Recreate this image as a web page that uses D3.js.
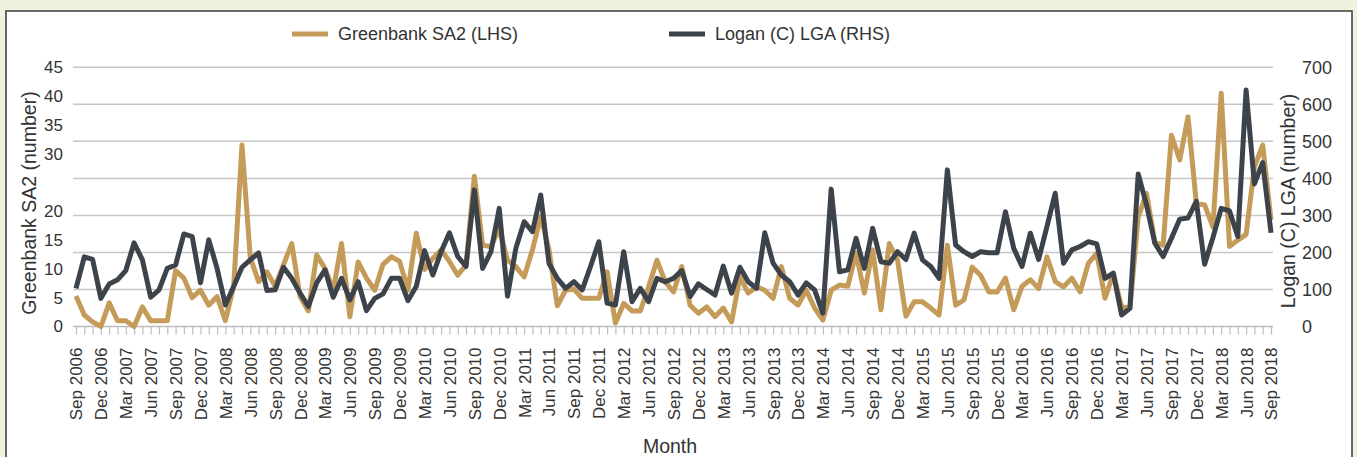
<!DOCTYPE html>
<html>
<head>
<meta charset="utf-8">
<script src="https://cdn.jsdelivr.net/npm/d3@7"></script>
<style>
  html, body { margin: 0; padding: 0; background: #eef3de; }
  svg { display: block; font-family: "Liberation Sans", Arial, sans-serif; }
</style>
</head>
<body>
<svg id="chart" width="1357" height="457"></svg>
<script>
'use strict';

// month categories, Sep 2006 .. Sep 2018
const MONTH_NAMES = ["Jan","Feb","Mar","Apr","May","Jun","Jul","Aug","Sep","Oct","Nov","Dec"];
const months = [];
for (let y = 2006, m = 8; y < 2018 || (y === 2018 && m <= 8); m++) {
  if (m === 12) { m = 0; y++; }
  months.push(MONTH_NAMES[m] + " " + y);
}

// Greenbank SA2 (left axis)
const greenbank = [
  5.3, 2.0, 0.8, 0, 4.1, 1, 1, 0, 3.4, 1, 1, 1, 9.7, 8.4, 5, 6.3, 3.7, 5.2, 1, 7,
  31.5, 12, 7.8, 9.5, 7, 10.7, 14.4, 5.2, 2.7, 12.4, 10.1, 6.3, 14.4, 1.7, 11.2, 8.4, 6.3, 10.8, 12.1, 11.3,
  6.3, 16.2, 9.9, 11.8, 13.3, 11.3, 8.9, 10.7, 26.1, 14.1, 13.9, 17, 11.5, 10.4, 8.6, 13.3, 19.1, 13.3, 3.6, 6.3,
  6.5, 4.9, 4.9, 4.9, 9.5, 0.6, 4, 2.7, 2.7, 6.9, 11.5, 7.8, 6, 10.4, 3.7, 2.3, 3.4, 1.7, 3.2, 0.8,
  8.6, 5.8, 6.9, 6.3, 4.9, 10.4, 4.9, 3.7, 6.3, 3.2, 1.1, 6.3, 7.2, 7, 12.7, 5.8, 13.3, 2.9, 14.4, 11.5,
  1.8, 4.3, 4.3, 3.2, 2, 14.1, 3.7, 4.6, 10.3, 8.9, 6, 6, 8.4, 2.9, 7, 8.1, 6.6, 12.1, 7.8, 6.9,
  8.4, 6, 11, 12.7, 4.9, 9.2, 3.4, 3.2, 19, 23.1, 14.7, 14.1, 33.2, 28.9, 36.4, 21.4, 21.1, 17.3, 40.5, 13.9,
  15, 16, 27.7, 31.5, 18.5
];

// Logan (C) LGA (right axis)
const logan = [
  103, 188, 181, 76, 115, 126, 151, 226, 180, 79, 99, 157, 166, 250, 243, 118, 234, 157, 58, 108,
  160, 180, 199, 97, 99, 160, 130, 90, 54, 118, 153, 79, 130, 72, 121, 43, 76, 88, 130, 130,
  70, 108, 205, 139, 202, 253, 189, 162, 369, 157, 202, 319, 82, 211, 283, 256, 355, 170, 130, 103,
  121, 99, 162, 229, 63, 58, 202, 67, 103, 67, 130, 121, 130, 151, 81, 115, 100, 85, 163, 90,
  160, 121, 103, 253, 171, 139, 121, 85, 118, 99, 36, 371, 148, 153, 238, 157, 265, 175, 171, 202,
  181, 252, 180, 162, 130, 423, 220, 202, 189, 202, 199, 199, 310, 211, 162, 252, 181, 270, 360, 171,
  207, 216, 229, 223, 130, 144, 31, 49, 412, 328, 225, 189, 238, 290, 293, 338, 168, 240, 319, 312,
  243, 639, 385, 443, 253
];

const leftTicks = [0, 5, 10, 15, 20, 30, 35, 40, 45];
const rightTicks = [0, 100, 200, 300, 400, 500, 600, 700];

const GOLD = "#c59b5a";
const DARK = "#3d434a";
const TEXT = "#333";

let svg = d3.select("#chart");

// frame
svg.append("rect")
  .attr("x", 6).attr("y", 11).attr("width", 1346).attr("height", 460)
  .attr("fill", "#fff").attr("stroke", "#3a3a3a").attr("stroke-width", 1.5);

let x = d3.scalePoint().domain(months).range([76, 1271]);
let yLeft = d3.scaleLinear().domain([0, 45]).range([326.5, 67.3]);
let yRight = d3.scaleLinear().domain([0, 700]).range([326.5, 67.3]);

// gridlines (right axis)
svg.append("g")
  .selectAll("line")
  .data(rightTicks.filter(d => d > 0))
  .enter().append("line")
  .attr("x1", 73).attr("x2", 1273)
  .attr("y1", d => yRight(d)).attr("y2", d => yRight(d))
  .attr("stroke", "#c6c6c6").attr("stroke-width", 1.5);

// x axis
let xAxis = svg.append("g")
  .attr("transform", "translate(0," + yRight(0) + ")")
  .call(d3.axisBottom(x).tickSize(8).tickFormat((d, i) => i % 3 === 0 ? d : ""));
xAxis.select(".domain").attr("stroke", "#bdbdbd").attr("stroke-width", 1.5)
  .attr("d", "M73,0H1273");
xAxis.selectAll(".tick line").attr("stroke", "#bdbdbd").attr("stroke-width", 1.2);
xAxis.selectAll(".tick text")
  .attr("transform", "rotate(-90)")
  .attr("text-anchor", "end")
  .attr("x", -21).attr("y", 0).attr("dy", "0.35em")
  .attr("fill", TEXT)
  .style("font-size", "17px");

// left axis labels
let leftAxis = svg.append("g")
  .attr("transform", "translate(63,0)")
  .call(d3.axisLeft(yLeft).tickValues(leftTicks).tickSize(0).tickPadding(0));
leftAxis.select(".domain").remove();
leftAxis.selectAll("text").attr("fill", TEXT).style("font-size", "17px");

// right axis labels
let rightAxis = svg.append("g")
  .attr("transform", "translate(1302,0)")
  .call(d3.axisRight(yRight).tickValues(rightTicks).tickSize(0).tickPadding(0));
rightAxis.select(".domain").remove();
rightAxis.selectAll("text").attr("fill", TEXT).style("font-size", "18px");

// axis titles
svg.append("text")
  .attr("transform", "translate(29,203) rotate(-90)")
  .attr("text-anchor", "middle").attr("dy", "0.35em")
  .attr("fill", TEXT).style("font-size", "19.5px")
  .text("Greenbank SA2 (number)");

svg.append("text")
  .attr("transform", "translate(1288,201) rotate(-90)")
  .attr("text-anchor", "middle").attr("dy", "0.35em")
  .attr("fill", TEXT).style("font-size", "19.5px")
  .text("Logan (C) LGA (number)");

svg.append("text")
  .attr("x", 670).attr("y", 446)
  .attr("text-anchor", "middle").attr("dy", "0.35em")
  .attr("fill", TEXT).style("font-size", "19.5px")
  .text("Month");

// lines
let lineLeft = d3.line().x((d, i) => x(months[i])).y(d => yLeft(d));
let lineRight = d3.line().x((d, i) => x(months[i])).y(d => yRight(d));

svg.append("path").datum(greenbank)
  .attr("d", lineLeft)
  .attr("fill", "none").attr("stroke", GOLD).attr("stroke-width", 5)
  .attr("stroke-linejoin", "round");

svg.append("path").datum(logan)
  .attr("d", lineRight)
  .attr("fill", "none").attr("stroke", DARK).attr("stroke-width", 5)
  .attr("stroke-linejoin", "round");

// legend
let legendItems = [
  {label: "Greenbank SA2 (LHS)", color: GOLD, x: 292},
  {label: "Logan (C) LGA (RHS)", color: DARK, x: 669}
];
let legend = svg.append("g").selectAll("g").data(legendItems).enter().append("g")
  .attr("transform", d => "translate(" + d.x + ",34)");
legend.append("line")
  .attr("x1", 0).attr("x2", 36).attr("y1", 0).attr("y2", 0)
  .attr("stroke", d => d.color).attr("stroke-width", 5);
legend.append("text")
  .attr("x", 46).attr("dy", "0.35em")
  .attr("fill", TEXT).style("font-size", "18px")
  .text(d => d.label);
</script>
</body>
</html>
